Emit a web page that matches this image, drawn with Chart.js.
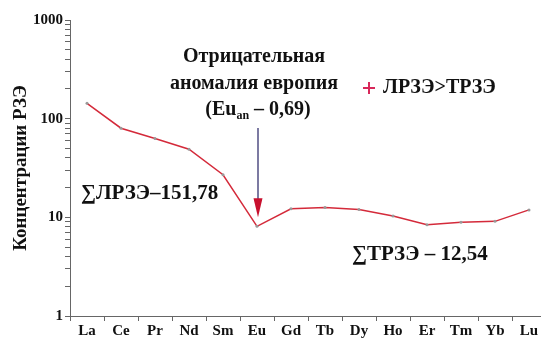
<!DOCTYPE html>
<html>
<head>
<meta charset="utf-8">
<script src="https://cdn.jsdelivr.net/npm/chart.js@4/dist/chart.umd.min.js"></script>
<style>
  html, body { margin: 0; padding: 0; background: #fff; overflow: hidden; }
  #wrap { width: 541px; height: 344px; overflow: hidden; position: relative; }
  canvas { display: block; }
</style>
</head>
<body>
<div id="wrap"><canvas id="c" width="560" height="344"></canvas></div>
<script>
// Rare earth elements (chondrite-normalised concentrations)
const elements = ['La', 'Ce', 'Pr', 'Nd', 'Sm', 'Eu', 'Gd', 'Tb', 'Dy', 'Ho', 'Er', 'Tm', 'Yb', 'Lu'];
const concentrations = [143, 80, 63, 49, 27, 8.1, 12.2, 12.6, 12.0, 10.3, 8.4, 8.9, 9.1, 11.9];
const majorTicks = [1, 10, 100, 1000];

const seriesName = 'ЛРЗЭ>ТРЗЭ';
const noteLines = ['Отрицательная', 'аномалия европия'];
const lreeSum = '∑ЛРЗЭ–151,78';
const hreeSum = '∑ТРЗЭ – 12,54';
const yTitle = 'Концентрации РЗЭ';

const SERIF = '"Liberation Serif", "Times New Roman", serif';
const AXIS_GREY = '#666';
const LINE_RED = '#d42a3a';

// log-axis ticks: every integer step inside each decade
function decadeTicks(min, max) {
  const out = [];
  for (let d = min; d < max; d *= 10) {
    for (let k = 1; k < 10; k++) out.push(k * d);
  }
  out.push(max);
  return out;
}

// Annotation layer: Eu-anomaly note with arrow, legend entry, sums
const annotations = {
  id: 'annotations',
  afterDatasetsDraw(chart) {
    const ctx = chart.ctx;
    const x = chart.scales.x, y = chart.scales.y;
    const big = 'bold 20px ' + SERIF;
    ctx.save();
    ctx.fillStyle = '#111';
    ctx.textBaseline = 'middle';
    ctx.textAlign = 'center';
    ctx.font = big;
    ctx.fillText(noteLines[0], 254, 57);
    ctx.fillText(noteLines[1], 254, 84);

    // (Eu_an – 0,69) with subscript
    const p1 = '(Eu', sub = 'an', p2 = ' – 0,69)';
    ctx.font = big;
    const w1 = ctx.measureText(p1).width, w3 = ctx.measureText(p2).width;
    ctx.font = 'bold 12px ' + SERIF;
    const w2 = ctx.measureText(sub).width;
    const sx = 258 - (w1 + w2 + w3) / 2;
    ctx.textAlign = 'left';
    ctx.font = big;
    ctx.fillText(p1, sx, 110);
    ctx.font = 'bold 12px ' + SERIF;
    ctx.fillText(sub, sx + w1, 116);
    ctx.font = big;
    ctx.fillText(p2, sx + w1 + w2, 110);

    // arrow pointing at the Eu minimum
    const ax = x.getPixelForValue(5) + 1;
    const tipY = y.getPixelForValue(concentrations[5]) - 9;
    ctx.strokeStyle = '#7c7aa2';
    ctx.lineWidth = 2;
    ctx.beginPath();
    ctx.moveTo(ax, 128);
    ctx.lineTo(ax, tipY - 16);
    ctx.stroke();
    ctx.fillStyle = '#c8102e';
    ctx.beginPath();
    ctx.moveTo(ax - 4.5, tipY - 19);
    ctx.lineTo(ax + 4.5, tipY - 19);
    ctx.lineTo(ax, tipY);
    ctx.closePath();
    ctx.fill();

    // legend entry
    ctx.strokeStyle = '#d8285a';
    ctx.lineWidth = 2;
    ctx.beginPath();
    ctx.moveTo(363, 88); ctx.lineTo(375, 88);
    ctx.moveTo(369, 82); ctx.lineTo(369, 94);
    ctx.stroke();
    ctx.fillStyle = '#111';
    ctx.font = big;
    ctx.textAlign = 'left';
    ctx.fillText(seriesName, 383, 88);

    // sums
    ctx.font = 'bold 21px ' + SERIF;
    ctx.fillText(lreeSum, 81, 194);
    ctx.fillText(hreeSum, 352, 255);
    ctx.restore();
  }
};

new Chart(document.getElementById('c'), {
  type: 'line',
  data: {
    labels: elements,
    datasets: [{
      label: seriesName,
      data: concentrations,
      borderColor: LINE_RED,
      borderWidth: 1.5,
      tension: 0,
      pointRadius: 1.5,
      pointBackgroundColor: '#999',
      pointBorderColor: '#999',
      pointBorderWidth: 0
    }]
  },
  options: {
    responsive: false,
    animation: false,
    layout: { padding: { top: 20, right: 14, left: 10, bottom: 0 } },
    plugins: { legend: { display: false }, tooltip: { enabled: false } },
    scales: {
      x: {
        type: 'category',
        offset: true,
        grid: { offset: true, drawOnChartArea: false, drawTicks: true, tickLength: 5, color: AXIS_GREY, tickColor: AXIS_GREY, tickWidth: 1 },
        border: { color: AXIS_GREY, width: 1 },
        ticks: { color: '#111', padding: 1, font: { family: SERIF, size: 15, weight: 'bold' }, maxRotation: 0, autoSkip: false },
        afterFit(s) { s.height = 28; }
      },
      y: {
        type: 'logarithmic',
        min: 1,
        max: 1000,
        grid: { drawOnChartArea: false, drawTicks: true, tickLength: 5, color: AXIS_GREY, tickColor: AXIS_GREY, tickWidth: 1 },
        border: { color: AXIS_GREY, width: 1 },
        ticks: {
          color: '#111',
          padding: 2,
          font: { family: SERIF, size: 15, weight: 'bold' },
          autoSkip: false,
          callback(v) { return majorTicks.includes(v) ? String(v) : ' '; }
        },
        afterBuildTicks(s) { s.ticks = decadeTicks(1, 1000).map(v => ({ value: v })); },
        title: {
          display: true,
          text: yTitle,
          color: '#111',
          font: { family: SERIF, size: 19, weight: 'bold' },
          padding: { top: 0, bottom: 4 }
        },
        afterFit(s) { s.width = 60; }
      }
    }
  },
  plugins: [annotations]
});
</script>
</body>
</html>
